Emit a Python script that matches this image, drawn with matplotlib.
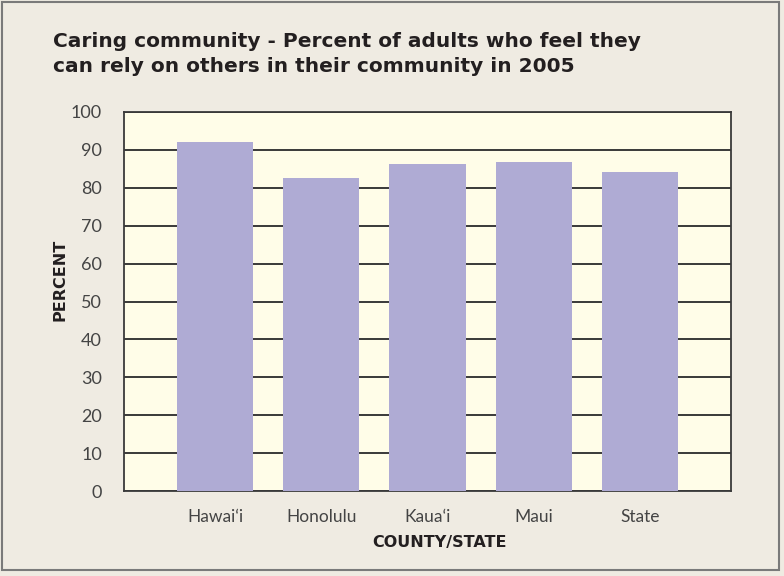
import matplotlib
matplotlib.use('Agg')
import matplotlib.pyplot as plt
from matplotlib.patches import Rectangle
import numpy as np

# data
counties = ['Hawai\u2018i', 'Honolulu', 'Kaua\u2018i', 'Maui', 'State']
percent = [92.2, 82.5, 86.4, 86.7, 84.3]
yticks = list(range(0, 101, 10))

page_bg = '#efebe2'
plot_bg = '#fffde8'
bar_color = '#afabd4'
text_color = '#231f20'
tick_color = '#444444'

fig = plt.figure(figsize=(7.84, 5.76), dpi=100, facecolor=page_bg)
# outer frame
fig.patches.append(Rectangle((0.003, 0.01), 0.99, 0.986, transform=fig.transFigure,
                             fill=False, edgecolor='#7a7a7a', linewidth=1.5))

ax = fig.add_axes([124 / 784, 1 - 491 / 576, (731 - 124) / 784, (491 - 112) / 576])
ax.set_facecolor(plot_bg)

x = np.arange(len(counties))
ax.bar(x, percent, width=0.717, color=bar_color, zorder=3)

ax.set_ylim(0, 100)
ax.set_xlim(-0.858, len(counties) - 1 + 0.858)
ax.set_yticks(yticks)
ax.yaxis.grid(True, color='#2a2a2a', linewidth=1.3, zorder=1)
ax.set_axisbelow(True)

ax.set_xticks(x)
ax.set_xticklabels(counties, family='Lato', fontsize=12.5, color=tick_color)
for lbl in ax.get_yticklabels():
    lbl.set_family('Lato')
    lbl.set_fontsize(13)
    lbl.set_color(tick_color)
ax.tick_params(axis='both', length=0)
ax.tick_params(axis='y', pad=16)
ax.tick_params(axis='x', pad=13)

for side in ['top', 'right', 'left', 'bottom']:
    ax.spines[side].set_color('#3a3a3a')
    ax.spines[side].set_linewidth(1.3)

fig.text(60 / 784, 1 - 280 / 576, 'PERCENT', family='DejaVu Sans', fontweight='bold',
         fontsize=11.5, color=text_color, rotation=90, ha='center', va='center')
fig.text(440 / 784, 1 - 543 / 576, 'COUNTY/STATE', family='DejaVu Sans', fontweight='bold',
         fontsize=11.5, color=text_color, ha='center', va='center')

fig.text(53 / 784, 1 - 32 / 576,
         'Caring community - Percent of adults who feel they\ncan rely on others in their community in 2005',
         family='DejaVu Sans', fontweight='bold', fontsize=14.5, color=text_color,
         va='top', ha='left', linespacing=1.42)

plt.savefig('out.png', dpi=100, facecolor=page_bg)
